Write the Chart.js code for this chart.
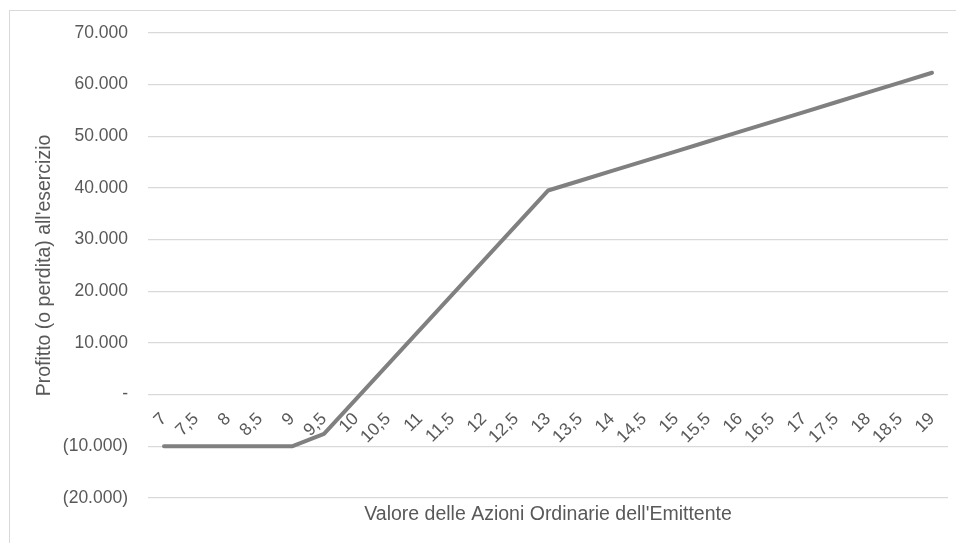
<!DOCTYPE html>
<html lang="it">
<head>
<meta charset="utf-8">
<title>Profitto all'esercizio</title>
<script src="https://cdn.jsdelivr.net/npm/chart.js@4/dist/chart.umd.min.js"></script>
<style>
  html, body { margin: 0; padding: 0; background: #fff; overflow: hidden; }
  #frame {
    position: absolute; left: 9px; top: 10px; width: 1000px; height: 600px;
    border: 1px solid #d9d9d9;
  }
  #chart { position: absolute; left: 0; top: 0; }
</style>
</head>
<body>
<div id="frame"></div>
<canvas id="chart" width="956" height="543"></canvas>
<script>
const categorie = ['7', '7,5', '8', '8,5', '9', '9,5', '10', '10,5', '11', '11,5', '12', '12,5',
  '13', '13,5', '14', '14,5', '15', '15,5', '16', '16,5', '17', '17,5', '18', '18,5', '19'];
const profitto = [-10000, -10000, -10000, -10000, -10000, -7600, -870, 5860, 12590, 19320, 26050, 32780,
  39510, 41400, 43300, 45200, 47100, 49000, 50900, 52800, 54700, 56600, 58500, 60400, 62300];
const yTickValues = [-20000, -10000, 0, 10000, 20000, 30000, 40000, 50000, 60000, 70000];
const yTickLabels = ['(20.000)', '(10.000)', '-', '10.000', '20.000', '30.000', '40.000', '50.000', '60.000', '70.000'];

const fontFamily = '"Liberation Sans", Arial, sans-serif';
const textColor = '#595959';
const gridColor = '#d9d9d9';

document.addEventListener('DOMContentLoaded', function() {
  const ctx = document.getElementById('chart').getContext('2d');

  new Chart(ctx, {
    type: 'line',
    data: {
      labels: categorie,
      datasets: [{
        label: "Profitto (o perdita) all'esercizio",
        data: profitto,
        borderColor: '#808080',
        borderWidth: 4,
        borderCapStyle: 'round',
        borderJoinStyle: 'round',
        pointRadius: 0,
        tension: 0,
        fill: false
      }]
    },
    options: {
      responsive: false,
      animation: false,
      layout: { padding: { top: 33, right: 8, left: 0, bottom: 0 } },
      plugins: {
        legend: { display: false },
        tooltip: { enabled: false }
      },
      scales: {
        // category labels sit on the zero line, like the Excel original
        x: {
          type: 'category',
          position: { y: 0 },
          offset: true,
          grid: { display: false, drawTicks: false },
          border: { display: false },
          ticks: {
            autoSkip: false,
            minRotation: 45,
            maxRotation: 45,
            padding: 14,
            color: textColor,
            font: { family: fontFamily, size: 17.5 }
          },
          afterFit: function(scale) {
            scale.paddingLeft = 0;
            scale.paddingRight = 0;
            scale.paddingTop = 0;
            scale.paddingBottom = 0;
          }
        },
        // bottom axis only carries the title
        x2: {
          type: 'category',
          axis: 'x',
          position: 'bottom',
          labels: categorie,
          offset: true,
          grid: { display: false, drawTicks: false },
          border: { display: false },
          ticks: { display: false },
          title: {
            display: true,
            text: "Valore delle Azioni Ordinarie dell'Emittente",
            color: textColor,
            font: { family: fontFamily, size: 19.5 },
            padding: { top: 0, bottom: 17 }
          },
          afterFit: function(scale) { scale.height = 45; }
        },
        y: {
          min: -20000,
          max: 70000,
          afterBuildTicks: function(scale) {
            scale.ticks = yTickValues.map(v => ({ value: v }));
          },
          grid: { color: gridColor, lineWidth: 1.3, drawTicks: false },
          border: { display: false },
          ticks: {
            padding: 20,
            color: textColor,
            font: { family: fontFamily, size: 17.5 },
            callback: function(value) {
              const i = yTickValues.indexOf(value);
              return i >= 0 ? yTickLabels[i] : '';
            }
          },
          title: {
            display: true,
            text: "Profitto (o perdita) all'esercizio",
            color: textColor,
            font: { family: fontFamily, size: 19.5 },
            padding: { top: 33, bottom: 0 }
          },
          afterFit: function(scale) { scale.width = 148; }
        }
      }
    }
  });
});
</script>
</body>
</html>
